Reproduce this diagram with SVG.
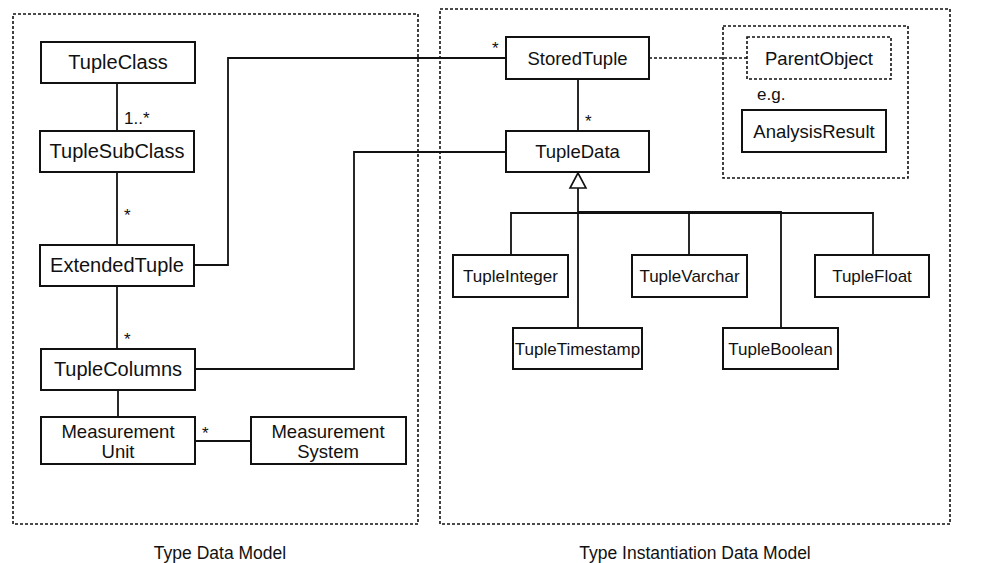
<svg xmlns="http://www.w3.org/2000/svg" width="992" height="563" viewBox="0 0 992 563">
<style>
.bg{fill:#fff}
.box{fill:#fff;stroke:#111;stroke-width:2}
.dbox{fill:none;stroke:#111;stroke-width:1.6;stroke-dasharray:3 2}
.ln{fill:none;stroke:#111;stroke-width:1.8}
.dl{fill:none;stroke:#111;stroke-width:1.6;stroke-dasharray:3 2}
text{font-family:"Liberation Sans",Arial,sans-serif;fill:#111}
.t20{font-size:20px;text-anchor:middle}
.t18{font-size:18.5px;text-anchor:middle}
.t17{font-size:17px;text-anchor:middle}
.lab{font-size:17px}
.cap{font-size:17.5px;text-anchor:middle}
</style>
<rect class="bg" x="0" y="0" width="992" height="563"/>
<g id="frames">
<rect class="dbox" x="13" y="14" width="405" height="510"/>
<rect class="dbox" x="440" y="9" width="510" height="515"/>
<rect class="dbox" x="723" y="26" width="185" height="152"/>
<text class="cap" x="220" y="559">Type Data Model</text>
<text class="cap" x="695" y="559">Type Instantiation Data Model</text>
</g>
<g id="connectors">
<line class="ln" x1="117" y1="83" x2="117" y2="131"/>
<line class="ln" x1="117" y1="172" x2="117" y2="245"/>
<line class="ln" x1="117" y1="286" x2="117" y2="349"/>
<line class="ln" x1="118" y1="390" x2="118" y2="417"/>
<line class="ln" x1="195" y1="441" x2="251" y2="441"/>
<polyline class="ln" points="194,265 228,265 228,58 506,58"/>
<polyline class="ln" points="195,369 354,369 354,152 506,152"/>
<line class="ln" x1="578" y1="79" x2="578" y2="131"/>
<line class="dl" x1="649" y1="58" x2="747" y2="58"/>
<polygon points="578,173 570,188 586,188" fill="#fff" stroke="#111" stroke-width="1.6"/>
<line class="ln" x1="578" y1="188" x2="578" y2="328"/>
<polyline class="ln" points="511,255 511,213 873,213 873,255"/>
<line class="ln" x1="689" y1="213" x2="689" y2="255"/>
<polyline class="ln" points="578,212 781,212 781,328" stroke-width="2.2"/>
<text class="lab" x="124" y="124">1..*</text>
<text class="lab" x="124" y="221">*</text>
<text class="lab" x="124" y="345">*</text>
<text class="lab" x="202" y="439">*</text>
<text class="lab" x="492" y="54">*</text>
<text class="lab" x="585" y="127">*</text>
</g>
<g id="TupleClass"><rect class="box" x="41" y="42" width="154" height="41"/><text class="t20" x="118" y="69">TupleClass</text></g>
<g id="TupleSubClass"><rect class="box" x="40" y="131" width="154" height="41"/><text class="t20" x="117" y="158">TupleSubClass</text></g>
<g id="ExtendedTuple"><rect class="box" x="40" y="245" width="154" height="41"/><text class="t20" x="117" y="272">ExtendedTuple</text></g>
<g id="TupleColumns"><rect class="box" x="41" y="349" width="154" height="41"/><text class="t20" x="118" y="376">TupleColumns</text></g>
<g id="MeasurementUnit"><rect class="box" x="41" y="417" width="154" height="47"/><text class="t18" x="118" y="438">Measurement</text><text class="t18" x="118" y="458">Unit</text></g>
<g id="MeasurementSystem"><rect class="box" x="251" y="417" width="155" height="47"/><text class="t18" x="328" y="438">Measurement</text><text class="t18" x="328" y="458">System</text></g>
<g id="StoredTuple"><rect class="box" x="506" y="37" width="143" height="42"/><text class="t18" x="577.5" y="65">StoredTuple</text></g>
<g id="TupleData"><rect class="box" x="506" y="131" width="143" height="41"/><text class="t18" x="577.5" y="158">TupleData</text></g>
<g id="ParentObject"><rect class="dbox" x="747" y="37" width="144" height="42"/><text class="t18" x="819" y="65">ParentObject</text></g>
<g id="eg"><text class="lab" x="757" y="100">e.g.</text></g>
<g id="AnalysisResult"><rect class="box" x="742" y="110" width="144" height="42"/><text class="t18" x="814" y="138">AnalysisResult</text></g>
<g id="TupleInteger"><rect class="box" x="453" y="255" width="115" height="42"/><text class="t17" x="510.5" y="282">TupleInteger</text></g>
<g id="TupleVarchar"><rect class="box" x="632" y="255" width="115" height="42"/><text class="t17" x="689.5" y="282">TupleVarchar</text></g>
<g id="TupleFloat"><rect class="box" x="815" y="255" width="114" height="42"/><text class="t17" x="872" y="282">TupleFloat</text></g>
<g id="TupleTimestamp"><rect class="box" x="513" y="328" width="129" height="41"/><text class="t17" x="577.5" y="355">TupleTimestamp</text></g>
<g id="TupleBoolean"><rect class="box" x="723" y="328" width="115" height="41"/><text class="t17" x="780.5" y="355">TupleBoolean</text></g>
</svg>
